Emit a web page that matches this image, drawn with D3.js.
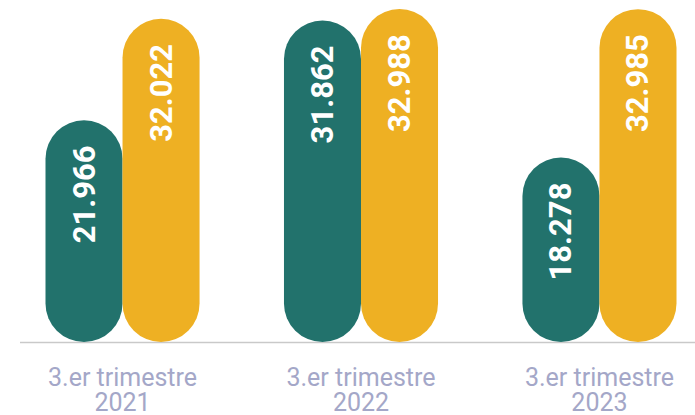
<!DOCTYPE html>
<html>
<head>
<meta charset="utf-8">
<script src="https://cdn.jsdelivr.net/npm/d3@7"></script>
<style>
  body { margin: 0; background: #fff; }
  svg { display: block; font-family: Roboto, sans-serif; }
</style>
</head>
<body>
<div id="chart-area"></div>
<script>
// data
const quarters = ["3.er trimestre", "3.er trimestre", "3.er trimestre"];
const years = ["2021", "2022", "2023"];
const seriesNames = ["a", "b"];
const valuesA = [21966, 31862, 18278];
const valuesB = [32022, 32988, 32985];

const full_width = 695, full_height = 415;
const baseY = 342;
const colors = { a: "#22726c", b: "#eeb023" };

const svg = d3.select("#chart-area").append("svg")
    .attr("width", full_width).attr("height", full_height);

const fmt = d3.formatLocale({ decimal: ",", thousands: ".", grouping: [3], currency: ["", "€"] }).format(",d");

const x0 = d3.scaleBand()
    .domain(years)
    .range([45.5, 676.5])
    .paddingInner(0.354)
    .paddingOuter(0);

const x1 = d3.scaleBand()
    .domain(seriesNames)
    .range([0, x0.bandwidth()]);

const y = d3.scaleLinear()
    .domain([0, 33000])
    .range([baseY, 9]);

const data = years.map((yr, i) => ({
    year: yr,
    quarter: quarters[i],
    vals: [{ key: "a", v: valuesA[i] }, { key: "b", v: valuesB[i] }]
}));

// baseline
svg.append("line")
    .attr("x1", 20).attr("x2", full_width)
    .attr("y1", baseY + 0.5).attr("y2", baseY + 0.5)
    .attr("stroke", "#c9c9c9")
    .attr("stroke-width", 1.5);

const groups = svg.selectAll("g.group").data(data).enter()
    .append("g")
    .attr("class", "group")
    .attr("transform", d => "translate(" + x0(d.year) + ",0)");

const bw = x1.bandwidth();

groups.selectAll("rect").data(d => d.vals).enter()
    .append("rect")
    .attr("x", d => x1(d.key))
    .attr("y", d => y(d.v))
    .attr("width", bw)
    .attr("height", d => baseY - y(d.v))
    .attr("rx", bw / 2)
    .attr("ry", bw / 2)
    .attr("fill", d => colors[d.key]);

groups.selectAll("text.val").data(d => d.vals).enter()
    .append("text")
    .attr("class", "val")
    .attr("transform", d => "translate(" + (x1(d.key) + bw / 2) + "," + (y(d.v) + 25) + ") rotate(-90)")
    .attr("text-anchor", "end")
    .attr("dominant-baseline", "central")
    .attr("fill", "#fff")
    .attr("font-size", "31px")
    .attr("font-weight", "bold")
    .text(d => fmt(d.v));

// category labels
const labels = groups.append("text")
    .attr("text-anchor", "middle")
    .attr("fill", "#a4a7c8")
    .attr("font-size", "25px");

labels.append("tspan")
    .attr("x", x0.bandwidth() / 2)
    .attr("y", 386)
    .text(d => d.quarter);

labels.append("tspan")
    .attr("x", x0.bandwidth() / 2)
    .attr("y", 411)
    .text(d => d.year);
</script>
</body>
</html>
